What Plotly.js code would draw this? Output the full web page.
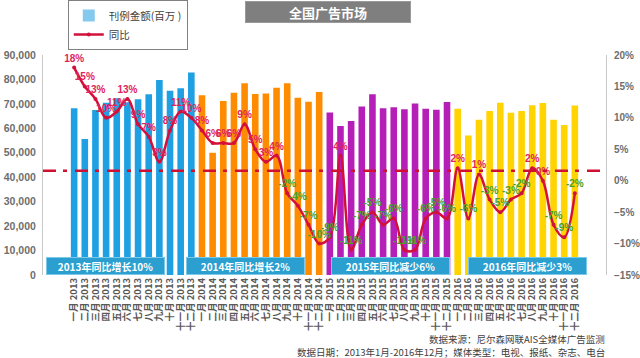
<!DOCTYPE html>
<html>
<head>
<meta charset="utf-8">
<script src="https://cdn.plot.ly/plotly-3.0.1.min.js"></script>
<style>html,body{margin:0;padding:0;background:#fff;}#chart{width:640px;height:358px;}</style>
</head>
<body>
<div id="chart"></div>
<script>
const monthNames = ['一月','二月','三月','四月','五月','六月','七月','八月','九月','十月','十一月','十二月'];
const years = [2013, 2014, 2015, 2016];

const adSpend2013 = [68200, 55600, 67500, 70500, 72300, 70700, 71900, 73900, 79800, 75400, 76400, 82800];
const adSpend2014 = [73500, 50000, 71200, 74600, 78400, 74000, 74300, 76600, 78400, 72500, 70900, 74900];
const adSpend2015 = [66500, 61000, 63000, 68900, 73900, 68200, 68600, 67800, 70200, 68000, 67600, 70800];
const adSpend2016 = [68000, 57100, 63500, 67100, 70500, 66400, 67100, 69400, 70400, 63500, 61400, 69300];

const yoy2013 = [18, 15, 13, 10, 11, 13, 9, 7, 3, 8, 11, 10];
const yoy2014 = [8, 6, 6, 6, 9, 5, 3, 4, -2, -4, -7, -10];
const yoy2015 = [-9, 4, -11, -7, -5, -7, -6, -11, -11, -6, -5, -6];
const yoy2016 = [2, -6, 1, -3, -5, -3, -2, 2, 0, -7, -9, -2];

const yearNotes = ['2013年同比增长10%', '2014年同比增长2%', '2015年同比减少6%', '2016年同比减少3%'];
const averageLine = 1.6;

const yearColors = ['#1ea0e2', '#ff8c00', '#b51fb8', '#ffd400'];
const spendByYear = [adSpend2013, adSpend2014, adSpend2015, adSpend2016];
const yoyByYear = [yoy2013, yoy2014, yoy2015, yoy2016];

const categories = [], spend = [], yoy = [], barColors = [];
years.forEach((y, i) => {
  monthNames.forEach((m, j) => {
    categories.push(m + ' ' + y);
    spend.push(spendByYear[i][j]);
    yoy.push(yoyByYear[i][j]);
    barColors.push(yearColors[i]);
  });
});

const cjk = '"Noto Sans CJK SC", "Liberation Sans", sans-serif';
const lineColor = '#d3103c';

const traces = [
  {type: 'bar', x: [categories[0]], y: [0], name: '刊例金额(百万 )', marker: {color: '#86c9ef'}, hoverinfo: 'skip'},
  {type: 'bar', x: categories, y: spend, marker: {color: barColors}, showlegend: false, name: '刊例金额'},
  {type: 'scatter', mode: 'lines+markers+text', x: categories, y: yoy, yaxis: 'y2', name: '同比',
   line: {color: lineColor, width: 2.5, shape: 'spline', smoothing: 1},
   marker: {color: lineColor, size: 4},
   text: yoy.map(v => v + '%'),
   textposition: 'top center',
   textfont: {family: '"Liberation Sans", Arial, sans-serif', size: 10, weight: 'bold',
     color: yoy.map(v => v >= 0 ? '#e0245e' : '#4aa02c')},
   cliponaxis: false}
];

const boxCenters = [0.111, 0.36, 0.617, 0.86];
const annotations = yearNotes.map((t, i) => ({
  text: t, xref: 'paper', yref: 'paper', x: boxCenters[i], y: 0.041, xanchor: 'center', yanchor: 'middle',
  showarrow: false,
  width: 117, height: 16, bgcolor: '#2b9fcf', bordercolor: '#7cc8e8', borderwidth: 1, borderpad: 0,
  font: {family: cjk, size: 10, color: '#ffffff', weight: 'bold'}
}));
annotations.push({
  text: '全国广告市场', xref: 'paper', yref: 'paper', x: 0.506, y: 1.195, xanchor: 'center', yanchor: 'middle',
  showarrow: false,
  width: 162, height: 18, bgcolor: '#7f7f7f', bordercolor: '#9a9a9a', borderwidth: 1,
  font: {family: cjk, size: 13, color: '#ffffff', weight: 'bold'}
});
annotations.push({
  text: '数据来源：尼尔森网联AIS全媒体广告监测', xref: 'paper', yref: 'paper', x: 1.002, y: -0.291,
  xanchor: 'right', yanchor: 'middle', showarrow: false,
  font: {family: cjk, size: 9.5, color: '#404040'}
});
annotations.push({
  text: '数据日期：2013年1月-2016年12月；媒体类型：电视、报纸、杂志、电台', xref: 'paper', yref: 'paper', x: 1.002, y: -0.35,
  xanchor: 'right', yanchor: 'middle', showarrow: false,
  font: {family: cjk, size: 9.5, color: '#404040'}
});

const layout = {
  width: 640, height: 358,
  margin: {l: 43, r: 34, t: 55, b: 83, autoexpand: false},
  paper_bgcolor: '#ffffff', plot_bgcolor: '#ffffff',
  bargap: 0.38,
  barmode: 'overlay',
  showlegend: true,
  legend: {x: 0.044, y: 1.25, xanchor: 'left', yanchor: 'top', bgcolor: '#ffffff',
    bordercolor: '#808080', borderwidth: 1, tracegroupgap: 0, itemwidth: 30,
    font: {family: cjk, size: 10.5, color: '#404040'}},
  xaxis: {type: 'category', tickmode: 'array', tickvals: categories, ticktext: categories,
    tickangle: -90, showgrid: false, showline: false, zeroline: false, ticks: '',
    tickfont: {family: cjk, size: 9.5, color: '#595959', weight: 'bold'}},
  yaxis: {range: [0, 90000], dtick: 10000, tickformat: ',d', showgrid: false, zeroline: false,
    showline: true, linecolor: '#c8c8c8', linewidth: 1, ticks: '', ticklabelstandoff: 4,
    tickfont: {family: '"Liberation Sans", Arial, sans-serif', size: 10.5, color: '#6e6e6e', weight: 'bold'}},
  yaxis2: {overlaying: 'y', side: 'right', range: [-15, 20], dtick: 5, ticksuffix: '%',
    showgrid: false, zeroline: false, showline: true, linecolor: '#c8c8c8', linewidth: 1, ticks: '',
    ticklabelstandoff: 5,
    tickfont: {family: '"Liberation Sans", Arial, sans-serif', size: 10, color: '#6e6e6e', weight: 'bold'}},
  shapes: [{type: 'line', xref: 'paper', x0: 0, x1: 1, yref: 'y2', y0: averageLine, y1: averageLine,
    line: {color: '#d01030', width: 2.5, dash: '13px,7px,4px,8px'}}],
  annotations: annotations
};

Plotly.newPlot('chart', traces, layout, {displayModeBar: false, staticPlot: true});
</script>
</body>
</html>
